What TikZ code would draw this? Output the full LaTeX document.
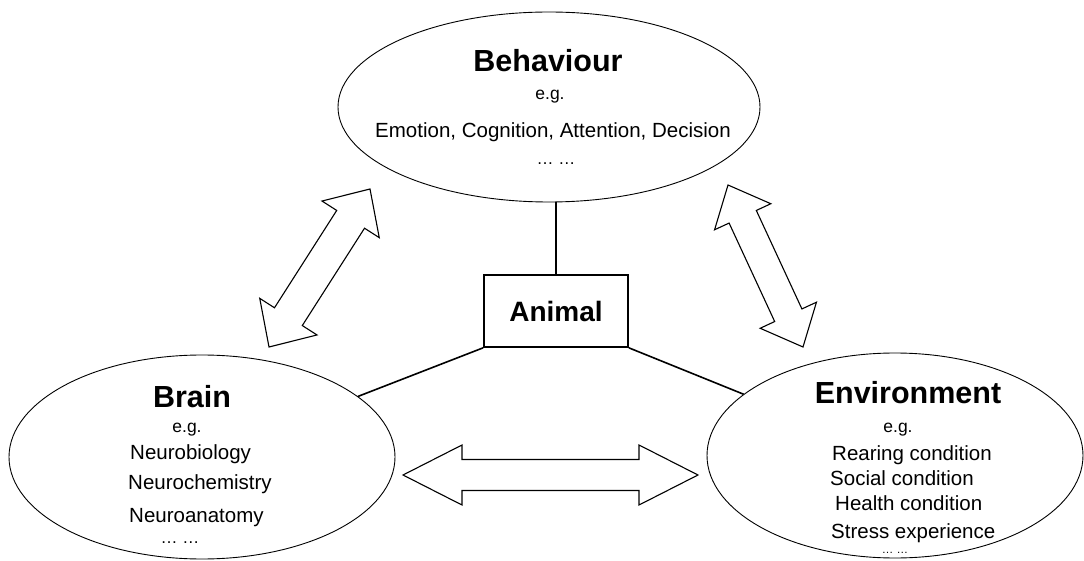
\documentclass[tikz,border=0pt]{standalone}
\usepackage{fontspec}
\setmainfont{Liberation Sans}
\usepackage{tikz}
\usetikzlibrary{calc,positioning,shapes.geometric}
\tikzset{
  area/.style={ellipse,draw=black,line width=0.9pt,inner sep=0pt},
  animalbox/.style={rectangle,draw=black,line width=1.6pt,inner sep=0pt,
                    minimum width=144pt,minimum height=72pt,
                    font=\fontsize{28}{32}\selectfont\bfseries},
  ttl/.style={inner sep=0pt,anchor=base,font=\fontsize{30.5}{34}\selectfont\bfseries},
  eg/.style={inner sep=0pt,anchor=base,font=\fontsize{17.5}{20}\selectfont},
  item/.style={inner sep=0pt,anchor=base west,font=\fontsize{20.5}{24}\selectfont},
  more/.style={inner sep=0pt,anchor=base,font=\fontsize{17}{20}\selectfont},
  link/.style={line width=1.6pt,black},
  blockarr/.style={draw=black,fill=white,line width=1.1pt,line join=miter},
}
% hollow two-headed arrow: from, to, head length, head half width, shaft half width
\newcommand{\dblarrow}[5]{%
  \draw[blockarr] (#1)
    -- ($(#1)!#3!(#2)!#4!90:(#2)$) -- ($(#1)!#3!(#2)!#5!90:(#2)$)
    -- ($(#2)!#3!(#1)!#5!-90:(#1)$) -- ($(#2)!#3!(#1)!#4!-90:(#1)$)
    -- (#2)
    -- ($(#2)!#3!(#1)!#4!90:(#1)$) -- ($(#2)!#3!(#1)!#5!90:(#1)$)
    -- ($(#1)!#3!(#2)!#5!-90:(#2)$) -- ($(#1)!#3!(#2)!#4!-90:(#2)$)
    -- cycle;}

\begin{document}
\begin{tikzpicture}[x=1pt,y=1pt]
  \useasboundingbox (0,0) rectangle (1084,560);

  % the three fields
  \node[area,minimum width=422pt,minimum height=190pt] (behav) at (549,453) {};
  \node[area,minimum width=386pt,minimum height=204pt] (brain) at (202,103) {};
  \node[area,minimum width=376pt,minimum height=205pt] (env) at (895,104.5) {};
  \node[animalbox] (animal) at (556,249) {Animal};

  % texts
  \node[ttl] (behavT) at (548,488) {Behaviour};
  \node[eg] (behavE) at (550,460) {e.g.};
  \node[item,anchor=base] (behavI) at (553,422) {Emotion, Cognition, Attention, Decision};
  \node[more] (behavM) at (556,395) {… …};

  \node[ttl] (brainT) at (192,153) {Brain};
  \node[eg] (brainE) at (187,128) {e.g.};
  \node[item] (brainA) at (130,101) {Neurobiology};
  \node[item] (brainB) at (128,71) {Neurochemistry};
  \node[item] (brainC) at (129,38) {Neuroanatomy};
  \node[more] (brainM) at (180,17) {… …};

  \node[ttl] (envT) at (908,157) {Environment};
  \node[eg] (envE) at (898,128) {e.g.};
  \node[item] (envA) at (832,100) {Rearing condition};
  \node[item] (envB) at (830,75) {Social condition};
  \node[item] (envC) at (835,50) {Health condition};
  \node[item] (envD) at (831,22) {Stress experience};
  \node[more,font=\fontsize{11.5}{13}\selectfont] (envM) at (895,7) {… …};

  % links to the animal
  \draw[link] (animal.north) -- (animal.north |- behav.south);
  \draw[link] (animal.south west) -- (brain);
  \draw[link] (animal.south east) -- (env);

  % interactions
  \coordinate (lA) at (269,213);
  \coordinate (lB) at (370,371);
  \coordinate (rA) at (728,375);
  \coordinate (rB) at (803,213);
  \coordinate (hA) at (403,85);
  \coordinate (hB) at (698,85);
  \dblarrow{lA}{lB}{36pt}{34pt}{16.5pt}
  \dblarrow{rA}{rB}{35pt}{31pt}{15pt}
  \dblarrow{hA}{hB}{59pt}{30pt}{15.5pt}
\end{tikzpicture}
\end{document}
